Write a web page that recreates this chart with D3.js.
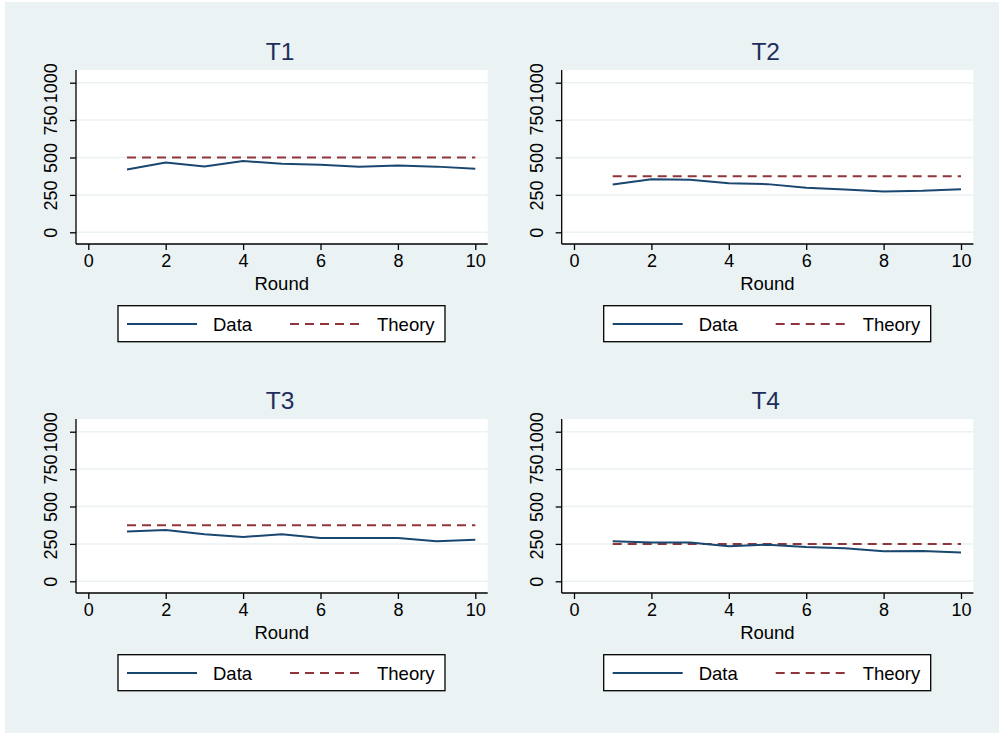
<!DOCTYPE html>
<html>
<head>
<meta charset="utf-8">
<script src="https://cdn.jsdelivr.net/npm/d3@7"></script>
<style>
	body { margin: 0; background: #fff; }
	svg { display: block; font-family: "Liberation Sans", Arial, sans-serif; }
</style>
</head>
<body>
<div id="chart"></div>
<script>
/**
 * Data
 */
var panelTitles = ["T1", "T2", "T3", "T4"];
var rounds = [1, 2, 3, 4, 5, 6, 7, 8, 9, 10];
var dataT1 = [420, 466, 440, 477, 458, 451, 439, 447, 439, 424];
var dataT2 = [320, 355, 351, 328, 322, 297, 286, 273, 277, 288];
var dataT3 = [333, 343, 314, 296, 314, 290, 290, 290, 268, 277];
var dataT4 = [268, 259, 259, 234, 245, 230, 221, 201, 203, 192];
var theory = [500, 375, 375, 250];
var yTicks = [0, 250, 500, 750, 1000];
var xTicks = [0, 2, 4, 6, 8, 10];
var legendLabels = ["Data", "Theory"];

var series = [dataT1, dataT2, dataT3, dataT4];

/**
 * Layout
 */
var W = 999, H = 733;
var colors = { bg: "#eaf2f3", data: "#1a476f", theory: "#90353b", title: "#1e2e5c", grid: "#eaf2f3" };
var panel = { dx: 485.7, dy: 349 };
var plot = { left: 76, right: 487.7, top: 70, bottom: 244 };

var svg = d3.select("#chart").append("svg")
	.attr("width", W)
	.attr("height", H);

svg.append("rect")
	.attr("x", 5).attr("y", 2)
	.attr("width", W - 5).attr("height", H - 2)
	.attr("fill", colors.bg);

var x = d3.scaleLinear().domain([0, 10]).range([88.3, 475.3]);
var y = d3.scaleLinear().domain([0, 1000]).range([232.3, 82.7]);

panelTitles.forEach(function(title, i) {
	var g = svg.append("g")
		.attr("transform", "translate(" + (i % 2) * panel.dx + "," + Math.floor(i / 2) * panel.dy + ")");

	// Plot region
	g.append("rect")
		.attr("x", plot.left).attr("y", plot.top)
		.attr("width", plot.right - plot.left).attr("height", plot.bottom - plot.top)
		.attr("fill", "#fff");

	// Grid
	g.selectAll(".grid").data(yTicks).enter().append("line")
		.attr("x1", plot.left).attr("x2", plot.right)
		.attr("y1", function(d) { return y(d); })
		.attr("y2", function(d) { return y(d); })
		.attr("stroke", colors.grid)
		.attr("stroke-width", 1.5);

	// Axes
	var yAxis = g.append("g")
		.attr("transform", "translate(" + plot.left + ",0)")
		.call(d3.axisLeft(y).tickValues(yTicks).tickFormat(d3.format("d")).tickSize(6));
	yAxis.select(".domain").attr("d", "M0," + plot.top + "V" + plot.bottom);
	// tick text is local to each tick group
	yAxis.selectAll(".tick text")
		.attr("x", -19)
		.attr("y", 0)
		.attr("dy", "0")
		.attr("transform", "rotate(-90,-19,0)")
		.attr("text-anchor", "middle")
		.attr("font-size", 18)
		.attr("fill", "#000");

	var xAxis = g.append("g")
		.attr("transform", "translate(0," + plot.bottom + ")")
		.call(d3.axisBottom(x).tickValues(xTicks).tickSize(6).tickPadding(4));
	xAxis.select(".domain").attr("d", "M" + plot.left + ",0H" + plot.right);
	xAxis.selectAll("text")
		.attr("font-size", 18)
		.attr("fill", "#000");
	g.selectAll(".domain, .tick line").attr("stroke", "#000").attr("stroke-width", 1.3);

	// Axis title
	g.append("text")
		.attr("x", 281.7).attr("y", 290)
		.attr("text-anchor", "middle")
		.attr("font-size", 18.5)
		.text("Round");

	// Panel title
	g.append("text")
		.attr("x", 280).attr("y", 59.5)
		.attr("text-anchor", "middle")
		.attr("font-size", 24.5)
		.attr("fill", colors.title)
		.text(title);

	// Theory line
	g.append("line")
		.attr("x1", x(rounds[0])).attr("x2", x(rounds[rounds.length - 1]))
		.attr("y1", y(theory[i])).attr("y2", y(theory[i]))
		.attr("stroke", colors.theory)
		.attr("stroke-width", 2)
		.attr("stroke-dasharray", "9,6");

	// Data line
	g.append("path")
		.datum(series[i])
		.attr("fill", "none")
		.attr("stroke", colors.data)
		.attr("stroke-width", 2)
		.attr("d", d3.line()
			.x(function(d, k) { return x(rounds[k]); })
			.y(function(d) { return y(d); }));

	// Legend
	var lg = g.append("g");
	lg.append("rect")
		.attr("x", 118).attr("y", 305.7)
		.attr("width", 327).attr("height", 36)
		.attr("fill", "#fff")
		.attr("stroke", "#000")
		.attr("stroke-width", 1.3);
	lg.append("line")
		.attr("x1", 127).attr("x2", 197).attr("y1", 324).attr("y2", 324)
		.attr("stroke", colors.data).attr("stroke-width", 2);
	lg.append("line")
		.attr("x1", 290).attr("x2", 360).attr("y1", 324).attr("y2", 324)
		.attr("stroke", colors.theory).attr("stroke-width", 2)
		.attr("stroke-dasharray", "9,6");
	lg.append("text")
		.attr("x", 213).attr("y", 331)
		.attr("font-size", 18.5)
		.text(legendLabels[0]);
	lg.append("text")
		.attr("x", 377).attr("y", 331)
		.attr("font-size", 18.5)
		.text(legendLabels[1]);
});
</script>
</body>
</html>
